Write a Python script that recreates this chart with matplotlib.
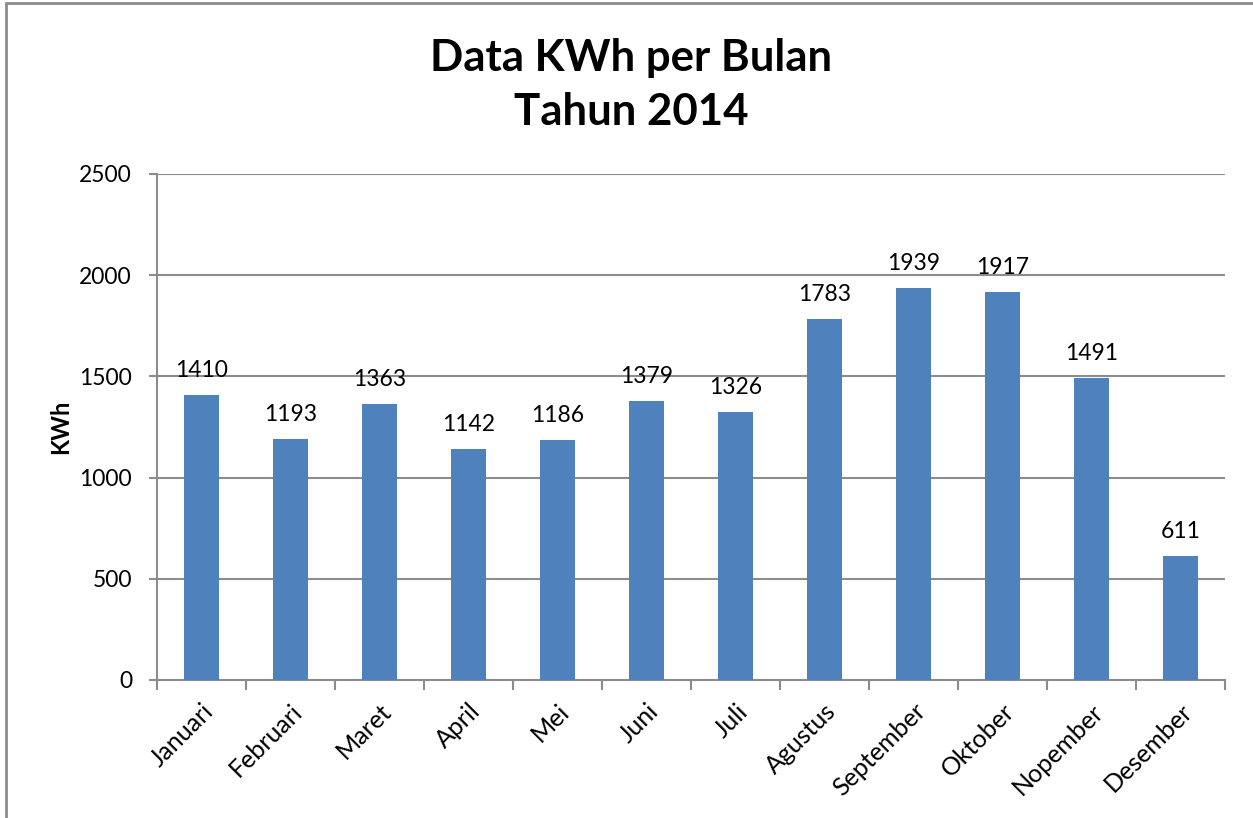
import matplotlib
matplotlib.use('Agg')
import matplotlib.pyplot as plt
from matplotlib.patches import Rectangle

# data
bulan = ['Januari', 'Februari', 'Maret', 'April', 'Mei', 'Juni', 'Juli',
         'Agustus', 'September', 'Oktober', 'Nopember', 'Desember']
kwh = [1410, 1193, 1363, 1142, 1186, 1379, 1326, 1783, 1939, 1917, 1491, 611]
yticks = [0, 500, 1000, 1500, 2000, 2500]

plt.rcParams['font.family'] = ['Lato', 'DejaVu Sans']
grey = '#8c8c8c'

fig = plt.figure(figsize=(12.53, 8.18), dpi=100)
ax = fig.add_axes([157/1253, 1-680/818, (1225-157)/1253, (680-174)/818])

x = list(range(len(bulan)))
bars = ax.bar(x, kwh, width=0.40, color='#4F81BD', zorder=3)

for xi, v in zip(x, kwh):
    ax.annotate(str(v), (xi, v), xytext=(0, 10), textcoords='offset points',
                ha='center', va='bottom', fontsize=16.5)

ax.set_xlim(-0.5, 11.5)
ax.set_ylim(0, 2500)
ax.set_yticks(yticks)
ax.tick_params(axis='y', labelsize=16.5, length=6, color=grey, width=1.5, pad=12)
ax.yaxis.grid(True, color=grey, linewidth=1.5, zorder=0)

ax.set_xticks(x)
ax.set_xticklabels(bulan, rotation=45, ha='right', rotation_mode='anchor', fontsize=18)
ax.tick_params(axis='x', length=0, pad=14)
ax.set_xticks([i - 0.5 for i in range(13)], minor=True)
ax.tick_params(axis='x', which='minor', length=7, color=grey, width=1.5)

for s in ['top', 'right']:
    ax.spines[s].set_visible(False)
for s in ['left', 'bottom']:
    ax.spines[s].set_color(grey)
    ax.spines[s].set_linewidth(1.5)

ax.set_ylabel('KWh', fontsize=17, fontweight='bold', labelpad=5)

fig.text(0.504, 1-85/818, 'Data KWh per Bulan\nTahun 2014', ha='center', va='center',
         fontsize=31.5, fontweight='bold', linespacing=1.4)

# outer frame
fig.patches.append(Rectangle((6/1253, -0.1), 1.2, 1-3/818 + 0.1, transform=fig.transFigure,
                             fill=False, edgecolor=grey, linewidth=2))

fig.savefig('out.png', dpi=100)
